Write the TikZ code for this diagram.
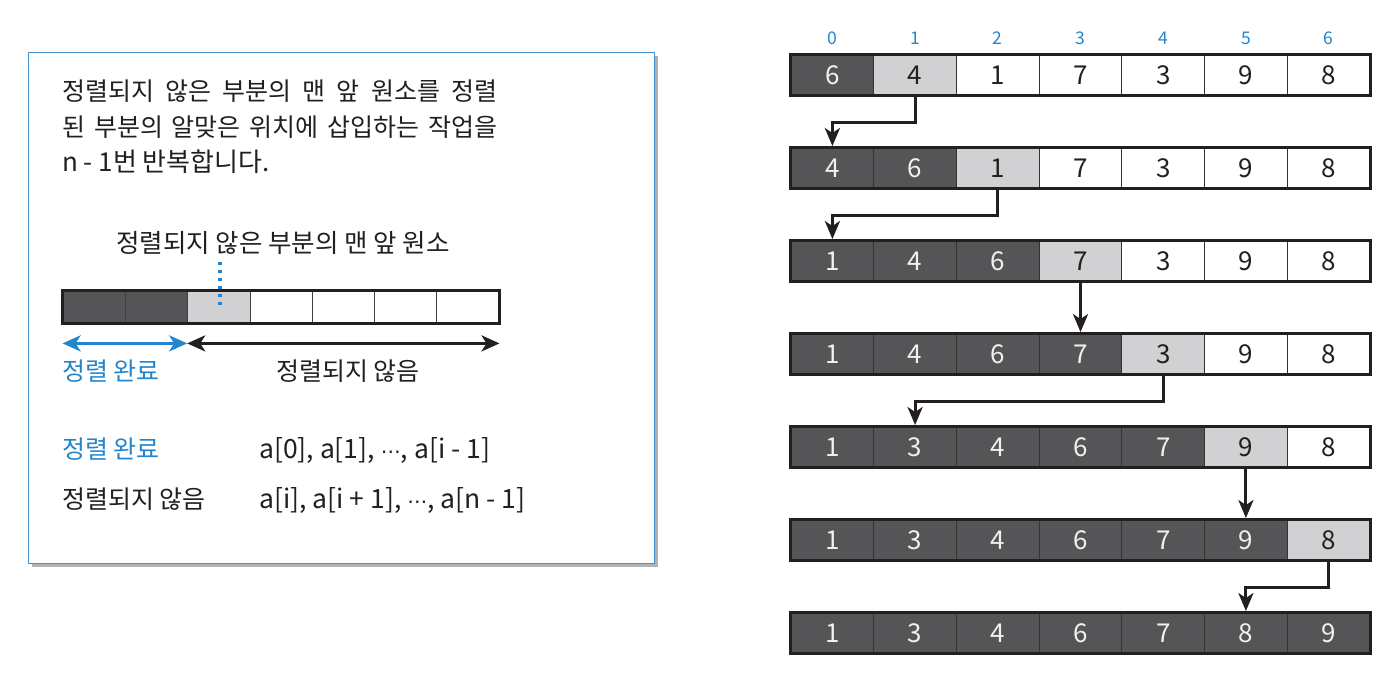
\documentclass[tikz,border=0pt]{standalone}
\usepackage{fontspec}
\setmainfont{Noto Sans CJK KR}
\newfontfamily\dvfont{DejaVu Sans}
\usetikzlibrary{arrows.meta,calc}
\definecolor{dk}{RGB}{85,85,87}
\definecolor{lg}{RGB}{209,209,211}
\definecolor{bl}{RGB}{35,134,204}
\definecolor{tx}{RGB}{35,31,32}
\definecolor{bx}{RGB}{66,146,210}
\definecolor{sh}{RGB}{178,178,181}
\newcommand{\mdots}{{\dvfont\fontsize{20}{20}\selectfont ⋯}}
\begin{document}
\begin{tikzpicture}[x=1pt,y=-1pt,
  cell/.style={draw=black!80, line width=0.9pt, minimum width=82.7pt, minimum height=40pt, inner sep=0pt, font=\fontsize{26}{26}\selectfont},
  darkcell/.style={cell, fill=dk, text=white!94!black},
  litecell/.style={cell, fill=lg, text=tx},
  whitecell/.style={cell, fill=white, text=tx},
  rowframe/.style={draw=tx, line width=3.5pt},
  conn/.style={draw=tx, line width=3pt, -{Stealth[length=18pt,width=15pt,inset=5pt]}, shorten >=1.5pt},
  idx/.style={text=bl, font=\fontsize{17.5}{17.5}\selectfont, inner sep=0pt},
  sbox/.style={draw=black!75, line width=0.8pt, minimum width=62.3pt, minimum height=32pt, inner sep=0pt},
  txt/.style={text=tx, font=\fontsize{25}{30}\selectfont, inner sep=0pt},
  ltxt/.style={text=tx, font=\fontsize{25}{30}\selectfont, inner sep=0pt},
  btxt/.style={text=bl, font=\fontsize{25}{30}\selectfont, inner sep=0pt},
  rtxt/.style={text=tx, font=\fontsize{26.5}{30}\selectfont, inner sep=0pt},
  dbl/.style={line width=3pt, {Stealth[length=18pt,width=16pt,inset=5pt]}-{Stealth[length=18pt,width=16pt,inset=5pt]}},
]
\useasboundingbox (0,0) rectangle (1391,679);
% ---------- left box ----------
\fill[sh] (32,56) rectangle (658,567);
\node[draw=bx, fill=white, line width=1.3pt, minimum width=626pt, minimum height=511pt, inner sep=0pt, anchor=north west] (box) at (28,52) {};
\node[txt, anchor=base west] (t1) at (62,101) {\hbox to 435pt{정렬되지\hfil 않은\hfil 부분의\hfil 맨\hfil 앞\hfil 원소를\hfil 정렬}};
\node[txt, anchor=base west] (t2) at (62,137) {\hbox to 435pt{된\hfil 부분의\hfil 알맞은\hfil 위치에\hfil 삽입하는\hfil 작업을}};
\node[txt, font=\fontsize{26}{30}\selectfont, anchor=base west] (t3) at (62,172) {n - 1번 반복합니다.};
\node[ltxt, font=\fontsize{25.5}{30}\selectfont, anchor=base] (lab) at (283,252) {정렬되지 않은 부분의 맨 앞 원소};
% small array
\foreach \c in {0,...,6}{
  \ifnum\c<2 \def\st{dk}\else\ifnum\c=2 \def\st{lg}\else\def\st{white}\fi\fi
  \node[sbox, fill=\st] (s\c) at ({63+62.3*(\c+0.5)},307) {};
}
\draw[rowframe] (s0.north west) rectangle (s6.south east);
\coordinate (dtop) at ($(s2.north)+(1,-29)$);
\coordinate (dbot) at ($(s2.center)+(1,2)$);
\draw[bl, line width=3.5pt, dash pattern=on 3.5pt off 4.5pt] (dtop) -- (dbot);
\coordinate (aL) at ($(s0.south west)+(0,20)$);
\coordinate (aM) at ($(s2.south west)+(0,20)$);
\coordinate (aR) at ($(s6.south east)+(0,20)$);
\draw[dbl, bl] (aL) -- (aM);
\draw[dbl, tx] (aM) -- (aR);
\node[btxt, anchor=base west] (done1) at (62,380) {정렬 완료};
\node[ltxt, anchor=base] (und1) at (348,380) {정렬되지 않음};
\node[btxt, anchor=base west] (done2) at (62,458) {정렬 완료};
\node[rtxt, anchor=base west] (rng1) at (259,458) {a[0], a[1], \mdots, a[i - 1]};
\node[ltxt, anchor=base west] (und2) at (62,508) {정렬되지 않음};
\node[rtxt, anchor=base west] (rng2) at (259,508) {a[i], a[i + 1], \mdots, a[n - 1]};
% ---------- right arrays ----------
\foreach \c in {0,...,6}{
  \node[idx] (i\c) at ({832.4+82.7*\c},38.5) {\c};
}
\foreach \r/\vals in {1/{6,4,1,7,3,9,8},2/{4,6,1,7,3,9,8},3/{1,4,6,7,3,9,8},4/{1,4,6,7,3,9,8},5/{1,3,4,6,7,9,8},6/{1,3,4,6,7,9,8},7/{1,3,4,6,7,8,9}}{
  \foreach \v [count=\c from 0] in \vals {
    \ifnum\c<\r \def\st{darkcell}\else\ifnum\c=\r \def\st{litecell}\else\def\st{whitecell}\fi\fi
    \node[\st] (r\r-\c) at ({832.4+82.7*\c},{75+93*(\r-1)}) {\v};
  }
  \draw[rowframe] (r\r-0.north west) rectangle (r\r-6.south east);
}
\draw[conn] (r1-1.south) -- ++(0,27) -| (r2-0.north);
\draw[conn] (r2-2.south) -- ++(0,27) -| (r3-0.north);
\draw[conn] (r3-3.south) -- (r4-3.north);
\draw[conn] (r4-4.south) -- ++(0,27) -| (r5-1.north);
\draw[conn] (r5-5.south) -- (r6-5.north);
\draw[conn] (r6-6.south) -- ++(0,27) -| (r7-5.north);
\end{tikzpicture}
\end{document}
